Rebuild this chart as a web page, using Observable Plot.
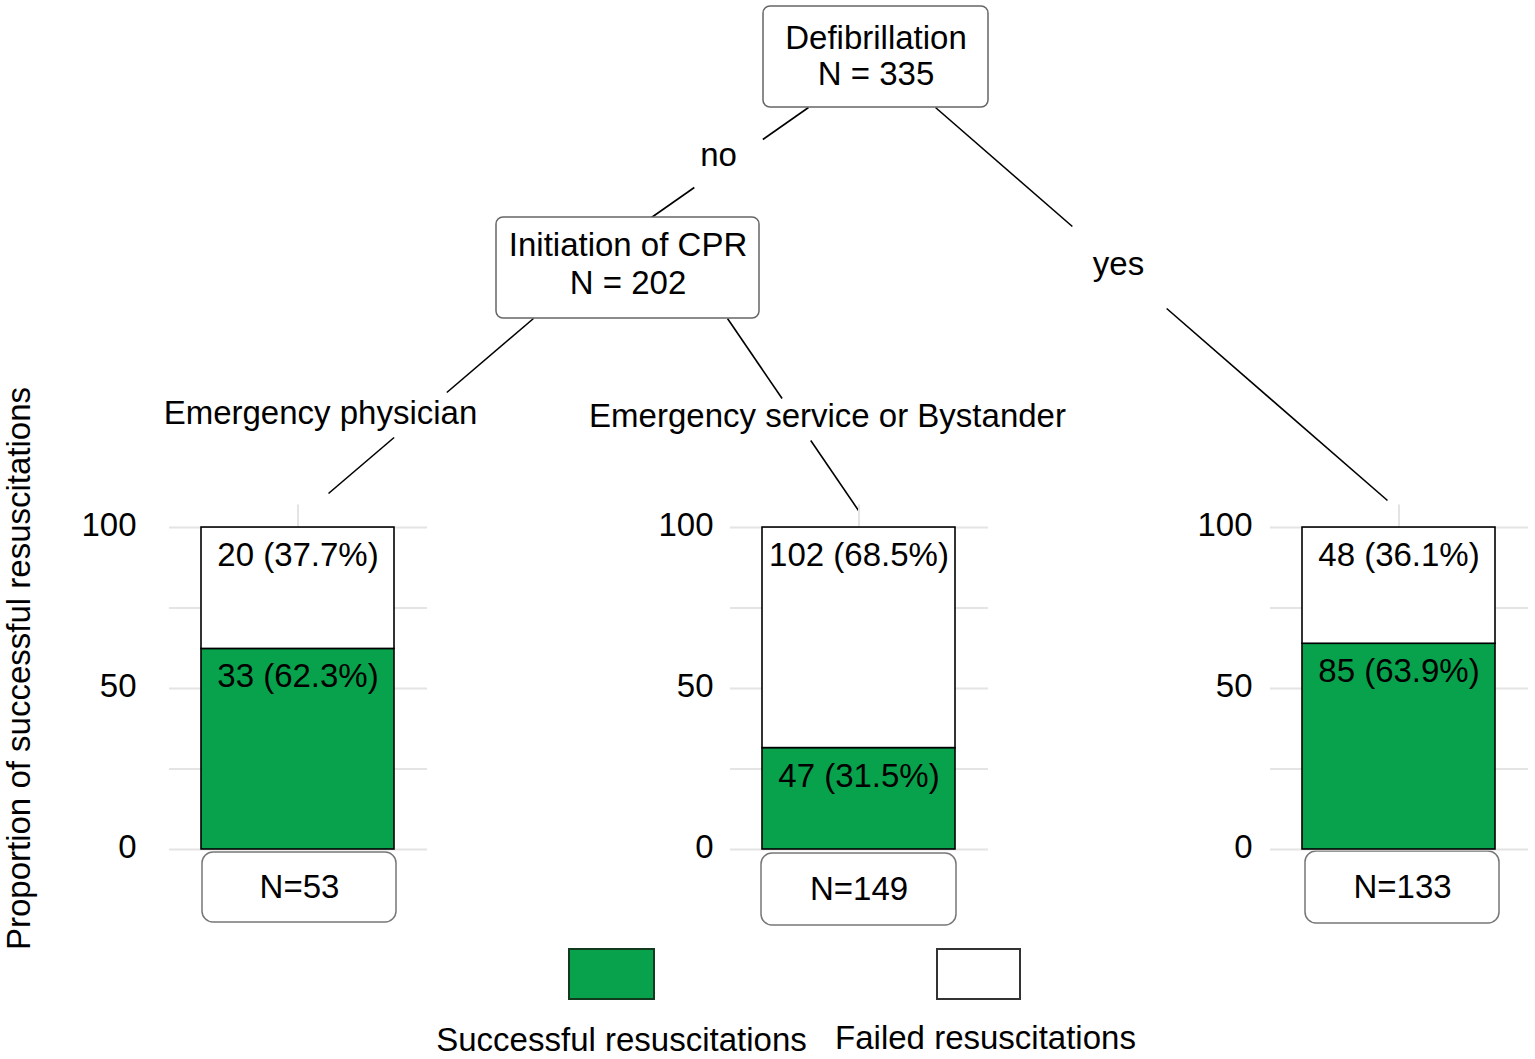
<!DOCTYPE html>
<html>
<head>
<meta charset="utf-8">
<script src="https://cdn.jsdelivr.net/npm/d3@7"></script>
<script src="https://cdn.jsdelivr.net/npm/@observablehq/plot@0.6"></script>
<style>
  html, body { margin: 0; padding: 0; background: #ffffff; }
  #chart { position: relative; width: 1535px; height: 1059px; overflow: hidden; background: #ffffff; }
  #chart > svg { position: absolute; left: 0; top: 0; overflow: visible; }
</style>
</head>
<body>
<div id="chart"></div>
<script>
// ---------------- DATA ----------------
const leaves = ["Emergency physician", "Emergency service or Bystander", "Defibrillation yes"];
const successCount = [33, 47, 85];
const failedCount = [20, 102, 48];
const successPct = [62.3, 31.5, 63.9];
const failedPct = [37.7, 68.5, 36.1];
const leafN = [53, 149, 133];
const outcomes = ["Successful resuscitations", "Failed resuscitations"];
const yTicks = [0, 50, 100];
const yGrid = [0, 25, 50, 75, 100];
const treeNodeNames = ["Defibrillation", "Initiation of CPR"];
const treeNodeN = [335, 202];
const edgeLabels = ["no", "yes", "Emergency physician", "Emergency service or Bystander"];
const yTitle = "Proportion of successful resuscitations";

// ---------------- STYLE / LAYOUT ----------------
const FONT = '"Liberation Sans", Arial, Helvetica, sans-serif';
const FS = 33;
const FILLS = ["#07a24b", "#ffffff"];
const GRID = "#e4e4e4";

const layout = {
  nodeBoxes: [
    {x1: 763, x2: 988, y1: 6, y2: 107, lineY: [37.5, 73.5]},
    {x1: 496, x2: 759, y1: 217, y2: 318, lineY: [244.5, 282.5]}
  ],
  edges: [
    {x1: 808, y1: 107, x2: 651, y2: 217, g1: 139, g2: 187},
    {x1: 935, y1: 107, x2: 1387, y2: 500, g1: 226, g2: 308},
    {x1: 533, y1: 318, x2: 328, y2: 493, g1: 392, g2: 437},
    {x1: 727, y1: 318, x2: 858, y2: 510, g1: 398, g2: 440}
  ],
  edgeLabelPos: [[718, 155], [1118, 264], [320, 413], [827, 416]],
  panels: [
    {frameLeft: 169, tickPadding: 33},
    {frameLeft: 730, tickPadding: 17},
    {frameLeft: 1270, tickPadding: 18}
  ],
  frameWidth: 258,
  panelTop: 470, panelHeight: 400, panelMarginTop: 34.5, panelMarginBottom: 21,
  yMax: 107,
  bandPadding: 0.1416,
  barLabelDy: 28,
  tickDy: -2,
  nBoxes: [
    {x1: 202, x2: 396, y1: 852, y2: 922},
    {x1: 761, x2: 956, y1: 853, y2: 925},
    {x1: 1305, x2: 1499, y1: 851, y2: 923}
  ],
  legendBoxes: [
    {x1: 569, x2: 654, y1: 949, y2: 999, stroke: "#123a1f"},
    {x1: 937, x2: 1020, y1: 949, y2: 999, stroke: "#333333"}
  ],
  legendText: [[621, 1040], [985, 1037.5]],
  yTitlePos: [19, 668]
};

const chart = document.getElementById("chart");

// ---------------- BACKGROUND: tree, N boxes, legend, title ----------------
const nodeRects = layout.nodeBoxes.map((b, i) => ({...b, name: treeNodeNames[i]}));
const nodeTexts = layout.nodeBoxes.flatMap((b, i) => [
  {x: (b.x1 + b.x2) / 2, y: b.lineY[0], text: treeNodeNames[i]},
  {x: (b.x1 + b.x2) / 2, y: b.lineY[1], text: `N = ${treeNodeN[i]}`}
]);
const segs = layout.edges.flatMap(e => {
  const xAt = y => e.x1 + (e.x2 - e.x1) * (y - e.y1) / (e.y2 - e.y1);
  return [
    {x1: e.x1, y1: e.y1, x2: xAt(e.g1), y2: e.g1},
    {x1: xAt(e.g2), y1: e.g2, x2: e.x2, y2: e.y2}
  ];
});
const edgeTexts = edgeLabels.map((t, i) => ({text: t, x: layout.edgeLabelPos[i][0], y: layout.edgeLabelPos[i][1]}));
const nBoxes = layout.nBoxes.map((b, i) => ({...b, text: `N=${leafN[i]}`}));
const legendBoxes = layout.legendBoxes.map((b, i) => ({...b, outcome: outcomes[i], fill: FILLS[i]}));
const legendTexts = outcomes.map((o, i) => ({text: o, x: layout.legendText[i][0], y: layout.legendText[i][1]}));

const bg = Plot.plot({
  width: 1535, height: 1059, margin: 0,
  x: {domain: [0, 1535], range: [0, 1535], axis: null},
  y: {domain: [0, 1059], range: [0, 1059], axis: null},
  style: {fontFamily: FONT, fontSize: FS + "px", color: "black", background: "transparent"},
  marks: [
    Plot.link(segs, {x1: "x1", y1: "y1", x2: "x2", y2: "y2", stroke: "black", strokeWidth: 1.6}),
    Plot.rect(nodeRects, {x1: "x1", x2: "x2", y1: "y1", y2: "y2", rx: 7, fill: "white", stroke: "#666666", strokeWidth: 1.5}),
    Plot.text(nodeTexts, {x: "x", y: "y", text: "text", fontSize: FS, fill: "black"}),
    Plot.text(edgeTexts, {x: "x", y: "y", text: "text", fontSize: FS, fill: "black"}),
    Plot.rect(nBoxes, {x1: "x1", x2: "x2", y1: "y1", y2: "y2", rx: 11, fill: "white", stroke: "#777777", strokeWidth: 1.5}),
    Plot.text(nBoxes, {x: d => (d.x1 + d.x2) / 2, y: d => (d.y1 + d.y2) / 2, text: "text", fontSize: FS, fill: "black"}),
    Plot.rect(legendBoxes, {x1: "x1", x2: "x2", y1: "y1", y2: "y2", fill: "fill", stroke: "stroke", strokeWidth: 2}),
    Plot.text(legendTexts, {x: "x", y: "y", text: "text", fontSize: FS, fill: "black"}),
    Plot.text([yTitle], {x: () => layout.yTitlePos[0], y: () => layout.yTitlePos[1], text: d => d, rotate: -90, fontSize: FS, fill: "black"})
  ]
});
chart.append(bg);

// ---------------- PANELS: stacked bars ----------------
leaves.forEach((leaf, i) => {
  const rows = [
    {leaf, outcome: outcomes[0], value: successPct[i], label: `${successCount[i]} (${successPct[i].toFixed(1)}%)`},
    {leaf, outcome: outcomes[1], value: failedPct[i], label: `${failedCount[i]} (${failedPct[i].toFixed(1)}%)`}
  ];
  const P = layout.panels[i];
  const mL = 100, mR = 20;
  const svg = Plot.plot({
    width: mL + layout.frameWidth + mR,
    height: layout.panelHeight,
    marginLeft: mL, marginRight: mR,
    marginTop: layout.panelMarginTop, marginBottom: layout.panelMarginBottom,
    x: {domain: [leaf], padding: layout.bandPadding, axis: null},
    y: {domain: [0, layout.yMax], axis: null},
    color: {domain: outcomes, range: FILLS},
    style: {fontFamily: FONT, fontSize: FS + "px", color: "black", background: "transparent", overflow: "visible"},
    marks: [
      Plot.gridY(yGrid, {stroke: GRID, strokeOpacity: 1, strokeWidth: 2}),
      Plot.ruleX([leaf], {x: d => d, y1: 0, y2: layout.yMax, stroke: GRID, strokeOpacity: 1, strokeWidth: 2}),
      Plot.barY(rows, {x: "leaf", y: "value", fill: "outcome", stroke: "black", strokeWidth: 1.6}),
      Plot.text(rows, Plot.stackY2({x: "leaf", y: "value", text: "label", dy: layout.barLabelDy, fontSize: FS, fill: "black"})),
      Plot.axisY(yTicks, {tickSize: 0, tickPadding: P.tickPadding, fontSize: FS, label: null, fill: "black", dy: layout.tickDy})
    ]
  });
  svg.style.left = (P.frameLeft - mL) + "px";
  svg.style.top = layout.panelTop + "px";
  chart.append(svg);
});
</script>
</body>
</html>
